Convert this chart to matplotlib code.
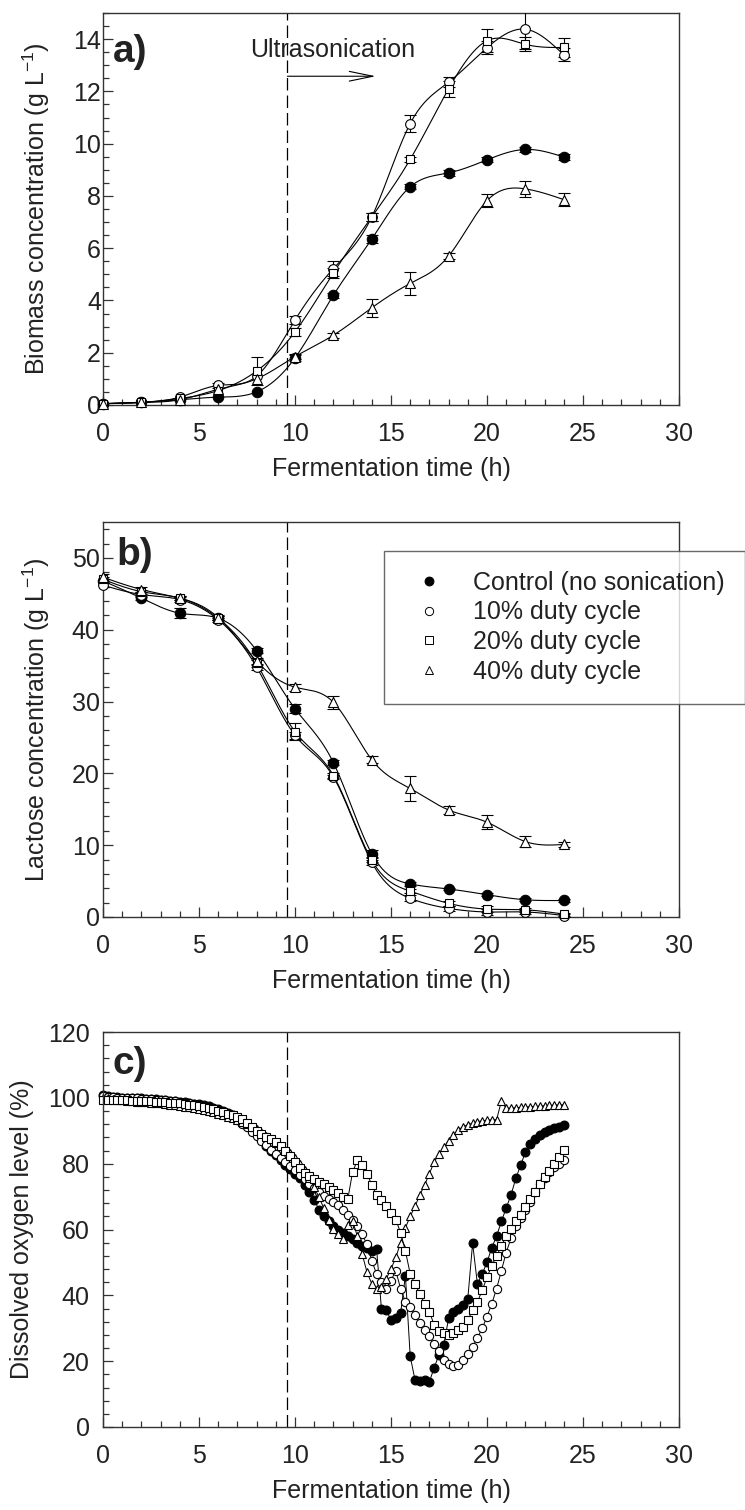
import numpy as np
import matplotlib
matplotlib.use("Agg")
import matplotlib.pyplot as plt
from matplotlib.lines import Line2D
from matplotlib.ticker import MultipleLocator

plt.rcParams['font.family'] = ['Liberation Sans', 'DejaVu Sans']
plt.rcParams['mathtext.default'] = 'regular'

# sampling times (h) for panels a and b
time_ab = [0, 2, 4, 6, 8, 10, 12, 14, 16, 18, 20, 22, 24]

# a) biomass (g/L) and std
bio_ctrl = [0.05, 0.1, 0.2, 0.3, 0.5, 1.8, 4.2, 6.35, 8.35, 8.88, 9.38, 9.78, 9.49]
bio_d10 = [0.05, 0.1, 0.3, 0.75, 1.1, 3.25, 5.22, 7.2, 10.77, 12.35, 13.67, 14.38, 13.4]
bio_d20 = [0.05, 0.1, 0.25, 0.55, 1.3, 2.8, 5.05, 7.2, 9.4, 12.1, 13.94, 13.8, 13.68]
bio_d40 = [0.05, 0.1, 0.2, 0.6, 1.0, 1.85, 2.67, 3.72, 4.65, 5.7, 7.82, 8.27, 7.86]
bio_ctrl_err = [0, 0, 0, 0, 0, 0.1, 0.1, 0.15, 0.1, 0.1, 0.1, 0.1, 0.1]
bio_d10_err = [0, 0, 0, 0.1, 0, 0.15, 0.3, 0.15, 0.33, 0.2, 0.25, 0.75, 0.25]
bio_d20_err = [0, 0, 0, 0, 0.55, 0.15, 0.2, 0.15, 0.1, 0.3, 0.45, 0.27, 0.35]
bio_d40_err = [0, 0, 0, 0, 0, 0.1, 0.1, 0.35, 0.45, 0.1, 0.25, 0.3, 0.25]

# b) lactose (g/L) and std
lac_ctrl = [46.8, 44.4, 42.3, 41.6, 37.1, 29.0, 21.5, 8.8, 4.6, 3.9, 3.1, 2.4, 2.3]
lac_d10 = [46.2, 44.9, 44.2, 41.4, 34.8, 25.3, 19.5, 7.6, 2.6, 1.2, 0.7, 0.7, 0.2]
lac_d20 = [47.0, 45.3, 44.4, 41.6, 35.3, 25.8, 19.7, 7.9, 3.6, 1.9, 1.1, 1.0, 0.4]
lac_d40 = [47.3, 45.6, 44.4, 41.7, 35.6, 32.0, 29.9, 21.9, 17.9, 14.9, 13.2, 10.5, 10.1]
lac_ctrl_err = [0.3, 0.3, 0.7, 0.3, 0.4, 0.6, 0.4, 0.5, 0.3, 0.2, 0.2, 0.2, 0.2]
lac_d10_err = [0.3, 0.3, 0.3, 0.3, 0.4, 0.5, 0.3, 0.3, 0.4, 0.3, 0.4, 0.3, 0.2]
lac_d20_err = [0.3, 0.3, 0.3, 0.3, 0.5, 1.2, 0.4, 0.3, 0.3, 0.3, 0.4, 0.3, 0.2]
lac_d40_err = [0.5, 0.3, 0.3, 0.3, 0.5, 0.5, 0.9, 0.5, 1.8, 0.5, 0.95, 0.8, 0.3]

# c) dissolved oxygen (%), one reading every 0.25 h from 0 to 24 h
time_c = np.arange(97) * 0.25
do_ctrl = [101.0, 100.5, 100.3, 100.2, 100.1, 100.0, 100.0, 99.9,
           99.8, 99.7, 99.6, 99.5, 99.4, 99.3, 99.1, 99.0,
           98.8, 98.6, 98.4, 98.2, 98.0, 97.7, 97.4, 97.0,
           96.6, 96.1, 95.5, 94.8, 94.0, 93.0, 91.8, 90.5,
           89.2, 87.5, 85.5, 84.0, 82.5, 81.0, 79.5, 78.5,
           77.0, 75.5, 73.5, 71.3, 69.0, 66.0, 64.0, 62.5,
           61.0, 60.0, 59.0, 58.0, 57.0, 56.0, 55.0, 54.5,
           53.5, 54.0, 36.0, 35.5, 32.5, 33.0, 34.5, 46.0,
           21.5, 14.3, 14.0, 14.2, 13.8, 18.0, 22.0, 25.0,
           33.0, 35.0, 36.0, 37.2, 39.0, 55.8, 43.5, 46.5,
           50.0, 54.5, 58.0, 62.5, 66.5, 70.5, 75.5, 79.5,
           83.5, 86.0, 87.5, 88.7, 89.6, 90.2, 90.7, 91.2,
           91.8]
do_d10 = [100.5, 100.3, 100.2, 100.1, 100.0, 100.0, 99.9, 99.8,
          99.7, 99.6, 99.5, 99.4, 99.3, 99.2, 99.0, 98.9,
          98.7, 98.5, 98.3, 98.0, 97.8, 97.5, 97.1, 96.7,
          96.2, 95.7, 95.0, 94.2, 93.3, 92.2, 91.0, 89.7,
          88.4, 87.0, 85.6, 84.3, 83.0, 81.8, 80.5, 79.3,
          78.0, 76.6, 75.2, 73.8, 72.5, 71.3, 70.2, 69.3,
          68.5, 67.3, 66.0, 64.5, 63.0, 61.0, 58.5, 55.5,
          50.5, 46.5, 44.0, 42.0, 44.5, 47.5, 42.0, 38.0,
          36.5, 34.0, 31.5, 29.5, 27.5, 25.2, 23.0, 20.5,
          19.2, 18.6, 18.8, 20.4, 22.2, 24.4, 27.0, 30.0,
          33.5, 37.5, 42.0, 47.5, 53.0, 57.3, 61.0, 63.5,
          66.0, 68.5, 71.3, 73.7, 75.6, 77.6, 79.0, 80.0,
          81.0]
do_d20 = [99.4, 99.4, 99.3, 99.3, 99.2, 99.2, 99.1, 99.1,
          99.0, 99.0, 98.9, 98.8, 98.7, 98.6, 98.5, 98.4,
          98.3, 98.1, 97.9, 97.7, 97.5, 97.2, 96.9, 96.5,
          96.1, 95.7, 95.2, 94.7, 94.2, 93.5, 92.5, 91.2,
          89.8, 89.0, 88.2, 87.4, 86.5, 85.4, 84.0, 82.3,
          80.5, 78.8, 77.3, 76.2, 75.3, 74.5, 73.7, 72.8,
          72.0, 71.0, 70.0, 69.2, 77.5, 81.0, 79.7, 77.0,
          73.5, 70.5, 69.0, 67.0, 65.0, 63.0, 59.0, 53.5,
          46.5, 43.5, 40.5, 37.5, 35.0, 31.0, 29.3, 28.5,
          28.0, 28.7, 29.5, 30.5, 32.5, 35.5, 38.0, 41.5,
          45.5, 49.0, 52.0, 55.0, 58.0, 60.3, 62.5, 64.5,
          66.8, 69.3, 71.5, 73.7, 76.0, 77.8, 80.0, 82.0,
          84.3]
do_d40 = [100.0, 99.8, 99.6, 99.4, 99.2, 99.0, 98.9, 98.8,
          98.7, 98.6, 98.5, 98.4, 98.3, 98.1, 97.9, 97.7,
          97.5, 97.3, 97.1, 96.9, 96.6, 96.3, 96.0, 95.6,
          95.2, 94.8, 94.3, 93.8, 93.3, 92.7, 92.0, 91.2,
          90.4, 89.5, 88.5, 87.5, 86.4, 85.3, 84.2, 83.1,
          81.8, 80.0, 78.0, 75.5, 72.8, 69.8, 66.5, 63.0,
          60.3, 58.5, 57.2, 61.5, 62.5, 58.0, 52.5, 47.0,
          43.5, 42.0, 42.5, 45.0, 48.0, 51.5, 56.0, 60.5,
          64.0, 67.0, 70.5, 73.5, 77.0, 80.5, 83.0, 85.0,
          87.0, 88.7, 90.3, 91.2, 91.8, 92.3, 92.8, 93.0,
          93.2, 93.3, 93.4, 99.0, 96.8, 96.9, 97.0, 97.1,
          97.2, 97.3, 97.4, 97.5, 97.6, 97.7, 97.8, 97.85,
          97.9]

labels = ['Control (no sonication)', '10% duty cycle', '20% duty cycle', '40% duty cycle']
sonication_start = 9.6

TXT = '#222222'
FS = 18
styles = [dict(marker='o', mfc='k', ms=7.5),
          dict(marker='o', mfc='white', ms=7),
          dict(marker='s', mfc='white', ms=6.2),
          dict(marker='^', mfc='white', ms=7)]


def smooth(x, y, n=300):
    # natural cubic spline through the points, only for drawing the curve
    x = np.asarray(x, float)
    y = np.asarray(y, float)
    k = len(x)
    h = np.diff(x)
    A = np.zeros((k, k))
    r = np.zeros(k)
    A[0, 0] = A[-1, -1] = 1
    for i in range(1, k - 1):
        A[i, i - 1] = h[i - 1]
        A[i, i] = 2 * (h[i - 1] + h[i])
        A[i, i + 1] = h[i]
        r[i] = 6 * ((y[i + 1] - y[i]) / h[i] - (y[i] - y[i - 1]) / h[i - 1])
    m = np.linalg.solve(A, r)
    xs = np.linspace(x[0], x[-1], n)
    j = np.clip(np.searchsorted(x, xs) - 1, 0, k - 2)
    hh = x[j + 1] - x[j]
    a = (x[j + 1] - xs) / hh
    b = (xs - x[j]) / hh
    ys = a * y[j] + b * y[j + 1] + ((a ** 3 - a) * m[j] + (b ** 3 - b) * m[j + 1]) * hh ** 2 / 6
    return xs, ys


def style_axes(ax, ymax, ymaj, ymin, ypad):
    ax.set_xlim(0, 30)
    ax.set_ylim(0, ymax)
    ax.xaxis.set_major_locator(MultipleLocator(5))
    ax.xaxis.set_minor_locator(MultipleLocator(1))
    ax.yaxis.set_major_locator(MultipleLocator(ymaj))
    ax.yaxis.set_minor_locator(MultipleLocator(ymin))
    ax.tick_params(which='both', direction='in', top=False, right=False,
                   colors='#333333', labelcolor=TXT, labelsize=FS, width=0.9)
    ax.tick_params(which='major', length=7)
    ax.tick_params(which='minor', length=4)
    ax.tick_params(axis='x', pad=12)
    ax.tick_params(axis='y', pad=ypad)
    for s in ax.spines.values():
        s.set_color('#333333')
        s.set_linewidth(1.0)
    ax.axvline(sonication_start, color='k', lw=0.9, dashes=(10, 4), zorder=1)
    ax.set_xlabel('Fermentation time (h)', fontsize=FS, color=TXT, labelpad=8)


def plot_points(ax, series, errs):
    for y, e, st in zip(series, errs, styles):
        xs, ys = smooth(time_ab, y)
        ax.plot(xs, ys, color='k', lw=0.8, zorder=2)
        idx = [i for i, v in enumerate(e) if v > 0]
        ax.errorbar([time_ab[i] for i in idx], [y[i] for i in idx], yerr=[e[i] for i in idx],
                    fmt='none', ecolor='k', elinewidth=0.8, capsize=4.5, capthick=0.8, zorder=3)
        ax.plot(time_ab, y, linestyle='none', color='k', mec='k', mew=0.8,
                zorder=4, clip_on=False, **st)


fig = plt.figure(figsize=(7.45, 15.1), dpi=100)
W, H = 745.0, 1510.0
ax_a = fig.add_axes([103 / W, (H - 405) / H, 576 / W, 392 / H])
ax_b = fig.add_axes([103 / W, (H - 917) / H, 576 / W, 395 / H])
ax_c = fig.add_axes([103 / W, (H - 1427) / H, 576 / W, 395 / H])

# a) biomass
style_axes(ax_a, 15, 2, 0.5, 1.5)
plot_points(ax_a, [bio_ctrl, bio_d10, bio_d20, bio_d40],
            [bio_ctrl_err, bio_d10_err, bio_d20_err, bio_d40_err])
ax_a.set_ylabel('Biomass concentration (g L$^{-1}$)', fontsize=FS, color=TXT, labelpad=15)
ax_a.text(7.66, 13.6, 'Ultrasonication', fontsize=FS, color=TXT, va='center', ha='left')
ax_a.annotate('', xy=(14.2, 12.58), xytext=(sonication_start, 12.58),
              arrowprops=dict(arrowstyle='->,head_length=1.7,head_width=0.35', lw=0.8,
                              color='k', shrinkA=0, shrinkB=0, mutation_scale=10))
ax_a.text(0.017, 0.90, 'a)', transform=ax_a.transAxes, fontsize=28, fontweight='bold',
          color=TXT, va='center', ha='left')

# b) lactose
style_axes(ax_b, 55, 10, 2, 2.5)
plot_points(ax_b, [lac_ctrl, lac_d10, lac_d20, lac_d40],
            [lac_ctrl_err, lac_d10_err, lac_d20_err, lac_d40_err])
ax_b.set_ylabel('Lactose concentration (g L$^{-1}$)', fontsize=FS, color=TXT, labelpad=14)
ax_b.text(0.024, 0.916, 'b)', transform=ax_b.transAxes, fontsize=28, fontweight='bold',
          color=TXT, va='center', ha='left')

handles = [Line2D([], [], linestyle='none', color='k', mec='k', mew=0.7,
                  marker=st['marker'], mfc=st['mfc'], ms=st['ms'] * 0.85) for st in styles]
leg = ax_b.legend(handles, labels, loc='upper left', bbox_to_anchor=(384 / W, (H - 551) / H),
                  bbox_transform=fig.transFigure, borderaxespad=0, fontsize=FS,
                  frameon=True, fancybox=False, edgecolor='#444444', borderpad=0.8,
                  handlelength=2.0, handletextpad=0.76, labelspacing=0.22)
leg.get_frame().set_linewidth(1.0)
for t in leg.get_texts():
    t.set_color(TXT)

# c) dissolved oxygen
style_axes(ax_c, 120, 20, 4, 9.5)
for y, st in zip([do_ctrl, do_d10, do_d40, do_d20], [styles[0], styles[1], styles[3], styles[2]]):
    ax_c.plot(time_c, y, color='k', lw=0.7, mec='k', mew=0.8, clip_on=False,
              marker=st['marker'], mfc=st['mfc'], ms=st['ms'] * 0.85)
ax_c.set_ylabel('Dissolved oxygen level (%)', fontsize=FS, color=TXT, labelpad=10)
ax_c.text(0.017, 0.92, 'c)', transform=ax_c.transAxes, fontsize=28, fontweight='bold',
          color=TXT, va='center', ha='left')

fig.savefig('out.png', dpi=100)
